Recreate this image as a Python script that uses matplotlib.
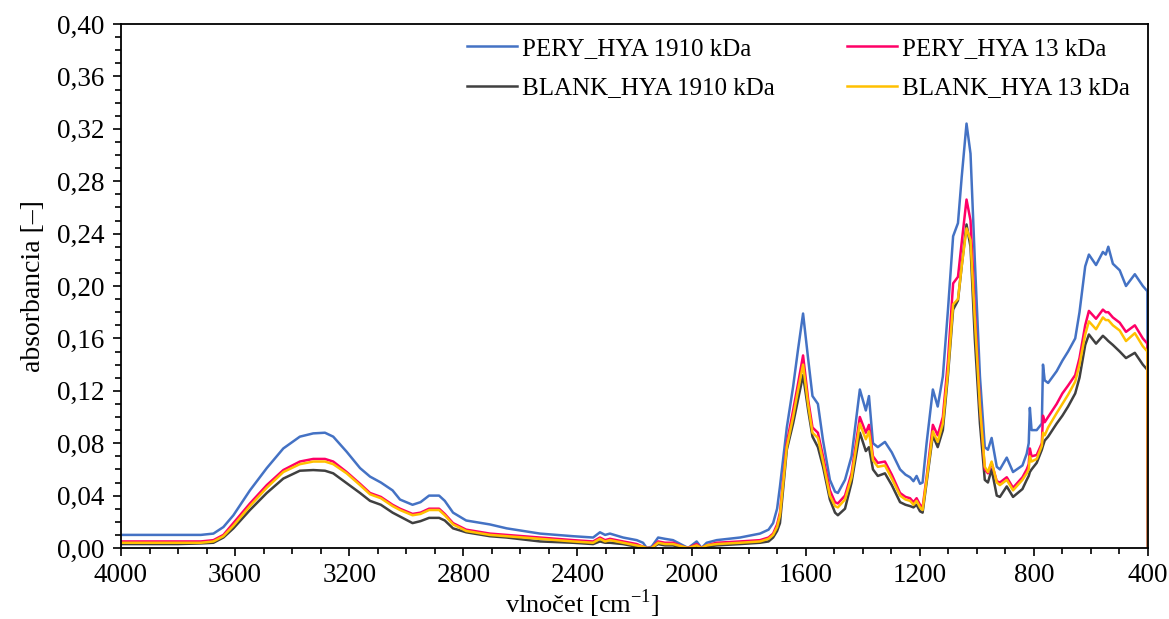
import matplotlib
matplotlib.use("Agg")
import matplotlib.pyplot as plt
from matplotlib.ticker import MultipleLocator, FuncFormatter

plt.rcParams['font.family'] = ['Liberation Serif', 'DejaVu Serif']
plt.rcParams['mathtext.fontset'] = 'custom'
plt.rcParams['mathtext.rm'] = 'Liberation Serif'

# vlnočet [cm-1]
wavenumber = [4000, 3800, 3720, 3676, 3641, 3606, 3548, 3489, 3431, 3373,
              3326, 3285, 3256, 3209, 3162, 3127, 3089, 3048, 3022, 2978,
              2950, 2920, 2885, 2865, 2836,
              2790, 2707, 2648, 2531, 2415, 2345, 2321, 2303, 2286, 2240,
              2192, 2170, 2157, 2140, 2117, 2093, 2065, 2030, 2012, 1982,
              1965, 1947, 1912, 1830, 1760, 1730, 1714, 1700, 1690, 1666,
              1644, 1627, 1609, 1591, 1576, 1557, 1539, 1515, 1497, 1487,
              1462, 1439, 1410, 1389, 1378, 1364, 1347, 1322, 1298, 1269,
              1250, 1234, 1222, 1211, 1199, 1190, 1176, 1154, 1137, 1119,
              1101, 1083, 1066, 1053, 1036, 1022, 1007, 989, 972, 961,
              948, 930, 919, 895, 873, 840, 825, 818, 814, 808,
              790, 772, 768, 762, 750, 720, 700, 680, 655, 640,
              620, 607, 582, 558, 548, 539, 523, 499, 477, 446,
              418, 402, 400]

pery_1910 = [0.010, 0.010, 0.010, 0.011, 0.016, 0.025, 0.044, 0.061, 0.076, 0.085,
             0.0875, 0.088, 0.085, 0.0735, 0.061, 0.0545, 0.050, 0.044, 0.037, 0.033,
             0.035, 0.040, 0.040, 0.036, 0.027,
             0.021, 0.018, 0.015, 0.011, 0.009, 0.008, 0.012, 0.010, 0.011, 0.008,
             0.006, 0.004, 0.000, 0.001, 0.008, 0.007, 0.006, 0.002, 0.000, 0.005,
             0.000, 0.004, 0.006, 0.008, 0.011, 0.014, 0.019, 0.030, 0.047, 0.092,
             0.123, 0.151, 0.179, 0.144, 0.116, 0.110, 0.082, 0.052, 0.043, 0.042,
             0.052, 0.070, 0.121, 0.105, 0.116, 0.080, 0.077, 0.081, 0.073, 0.060,
             0.056, 0.054, 0.051, 0.055, 0.049, 0.050, 0.080, 0.121, 0.108, 0.131,
             0.182, 0.238, 0.248, 0.283, 0.324, 0.301, 0.220, 0.131, 0.077, 0.075,
             0.084, 0.062, 0.060, 0.069, 0.058, 0.063, 0.072, 0.080, 0.107, 0.090,
             0.090, 0.095, 0.140, 0.128, 0.126, 0.135, 0.143, 0.150, 0.160, 0.180,
             0.215, 0.224, 0.216, 0.226, 0.224, 0.230, 0.217, 0.212, 0.200, 0.209,
             0.200, 0.196, 0.000]

pery_13 = [0.005, 0.005, 0.005, 0.006, 0.010, 0.019, 0.034, 0.048, 0.0595, 0.066,
           0.068, 0.068, 0.066, 0.058, 0.049, 0.042, 0.039, 0.033, 0.030, 0.026,
           0.027, 0.030, 0.030, 0.026, 0.019,
           0.014, 0.011, 0.010, 0.008, 0.006, 0.005, 0.008, 0.006, 0.007, 0.005,
           0.003, 0.001, 0.000, 0.000, 0.005, 0.004, 0.004, 0.001, 0.000, 0.003,
           0.000, 0.002, 0.004, 0.005, 0.006, 0.008, 0.011, 0.018, 0.027, 0.080,
           0.105, 0.125, 0.147, 0.113, 0.092, 0.088, 0.070, 0.044, 0.035, 0.034,
           0.040, 0.057, 0.100, 0.088, 0.094, 0.070, 0.065, 0.066, 0.056, 0.042,
           0.039, 0.038, 0.035, 0.038, 0.033, 0.031, 0.054, 0.094, 0.086, 0.100,
           0.143, 0.202, 0.207, 0.233, 0.266, 0.250, 0.182, 0.110, 0.060, 0.057,
           0.065, 0.051, 0.050, 0.054, 0.046, 0.054, 0.060, 0.064, 0.076, 0.070,
           0.071, 0.080, 0.101, 0.096, 0.100, 0.110, 0.118, 0.124, 0.132, 0.145,
           0.170, 0.181, 0.175, 0.182, 0.180, 0.180, 0.176, 0.172, 0.165, 0.170,
           0.160, 0.156, 0.000]

blank_1910 = [0.003, 0.003, 0.0035, 0.004, 0.008, 0.015, 0.029, 0.042, 0.053, 0.059,
              0.0595, 0.059, 0.057, 0.0495, 0.042, 0.036, 0.033, 0.027, 0.024, 0.019,
              0.0205, 0.023, 0.023, 0.021, 0.015,
              0.012, 0.009, 0.008, 0.005, 0.004, 0.003, 0.005, 0.004, 0.004, 0.003,
              0.001, 0.000, 0.000, 0.000, 0.003, 0.002, 0.002, 0.000, 0.000, 0.001,
              0.000, 0.001, 0.002, 0.003, 0.004, 0.005, 0.008, 0.013, 0.019, 0.075,
              0.095, 0.113, 0.132, 0.105, 0.085, 0.077, 0.062, 0.037, 0.027, 0.025,
              0.030, 0.050, 0.088, 0.074, 0.077, 0.060, 0.055, 0.057, 0.048, 0.035,
              0.033, 0.032, 0.031, 0.033, 0.028, 0.027, 0.050, 0.086, 0.077, 0.090,
              0.132, 0.182, 0.189, 0.215, 0.247, 0.230, 0.160, 0.095, 0.052, 0.050,
              0.060, 0.040, 0.039, 0.047, 0.039, 0.045, 0.052, 0.055, 0.058, 0.060,
              0.065, 0.075, 0.078, 0.082, 0.085, 0.095, 0.101, 0.108, 0.118, 0.130,
              0.155, 0.163, 0.156, 0.162, 0.160, 0.158, 0.155, 0.150, 0.145, 0.149,
              0.140, 0.136, 0.000]

blank_13 = [0.004, 0.004, 0.004, 0.005, 0.009, 0.017, 0.032, 0.046, 0.058, 0.064,
            0.066, 0.066, 0.064, 0.057, 0.048, 0.041, 0.038, 0.032, 0.029, 0.025,
            0.026, 0.029, 0.029, 0.025, 0.018,
            0.013, 0.010, 0.009, 0.007, 0.005, 0.004, 0.007, 0.005, 0.006, 0.004,
            0.002, 0.001, 0.000, 0.000, 0.004, 0.003, 0.003, 0.001, 0.000, 0.002,
            0.000, 0.002, 0.003, 0.004, 0.005, 0.007, 0.010, 0.016, 0.025, 0.077,
            0.100, 0.120, 0.140, 0.109, 0.088, 0.084, 0.066, 0.040, 0.032, 0.031,
            0.037, 0.054, 0.095, 0.083, 0.089, 0.067, 0.062, 0.063, 0.053, 0.040,
            0.037, 0.036, 0.033, 0.036, 0.031, 0.029, 0.052, 0.089, 0.081, 0.095,
            0.135, 0.186, 0.190, 0.215, 0.244, 0.235, 0.175, 0.108, 0.062, 0.058,
            0.066, 0.050, 0.048, 0.052, 0.044, 0.052, 0.057, 0.060, 0.070, 0.066,
            0.068, 0.078, 0.088, 0.086, 0.092, 0.103, 0.110, 0.117, 0.127, 0.140,
            0.163, 0.173, 0.167, 0.176, 0.174, 0.174, 0.170, 0.166, 0.158, 0.164,
            0.154, 0.150, 0.000]

# poradie kreslenia: posledná krivka je navrchu
series = [
    ("BLANK_HYA 1910 kDa", blank_1910, "#404040"),
    ("PERY_HYA 1910 kDa", pery_1910, "#4472C4"),
    ("PERY_HYA 13 kDa", pery_13, "#FF0066"),
    ("BLANK_HYA 13 kDa", blank_13, "#FFC000"),
]

fig = plt.figure(figsize=(11.69, 6.19), dpi=100)
ax = fig.add_axes([0.1035, 0.1147, 0.8785, 0.8465])

handles = {}
for label, values, color in series:
    line, = ax.plot(wavenumber, values, color=color, lw=1.8, label=label)
    handles[label] = line

ax.set_xlim(4000, 400)
ax.set_ylim(0, 0.40)
ax.xaxis.set_major_locator(MultipleLocator(400))
ax.xaxis.set_minor_locator(MultipleLocator(100))
ax.yaxis.set_major_locator(MultipleLocator(0.04))
ax.yaxis.set_minor_locator(MultipleLocator(0.01))
ax.yaxis.set_major_formatter(FuncFormatter(lambda v, p: f"{v:.2f}".replace(".", ",")))
ax.tick_params(which='major', direction='out', length=6, width=1.2, labelsize=19.5,
               colors='black', pad=6)
ax.tick_params(axis='x', which='major', pad=5)
ax.tick_params(which='minor', direction='out', length=4, width=1.2)
for s in ax.spines.values():
    s.set_linewidth(1.3)

ax.set_xlabel(r"vlnočet [cm$^{\mathregular{-1}}$]", fontsize=19)
ax.xaxis.set_label_coords(0.449, -0.075)
ax.set_ylabel("absorbancia [–]", fontsize=20, labelpad=8)

order = ["PERY_HYA 1910 kDa", "BLANK_HYA 1910 kDa", "PERY_HYA 13 kDa", "BLANK_HYA 13 kDa"]
ax.legend([handles[k] for k in order], order, ncol=2, frameon=False, fontsize=18,
          loc='upper left', bbox_to_anchor=(0.315, 1.017), handlelength=2.0,
          handletextpad=0.2, columnspacing=2.9, labelspacing=0.67)

fig.savefig("out.png", dpi=100)
